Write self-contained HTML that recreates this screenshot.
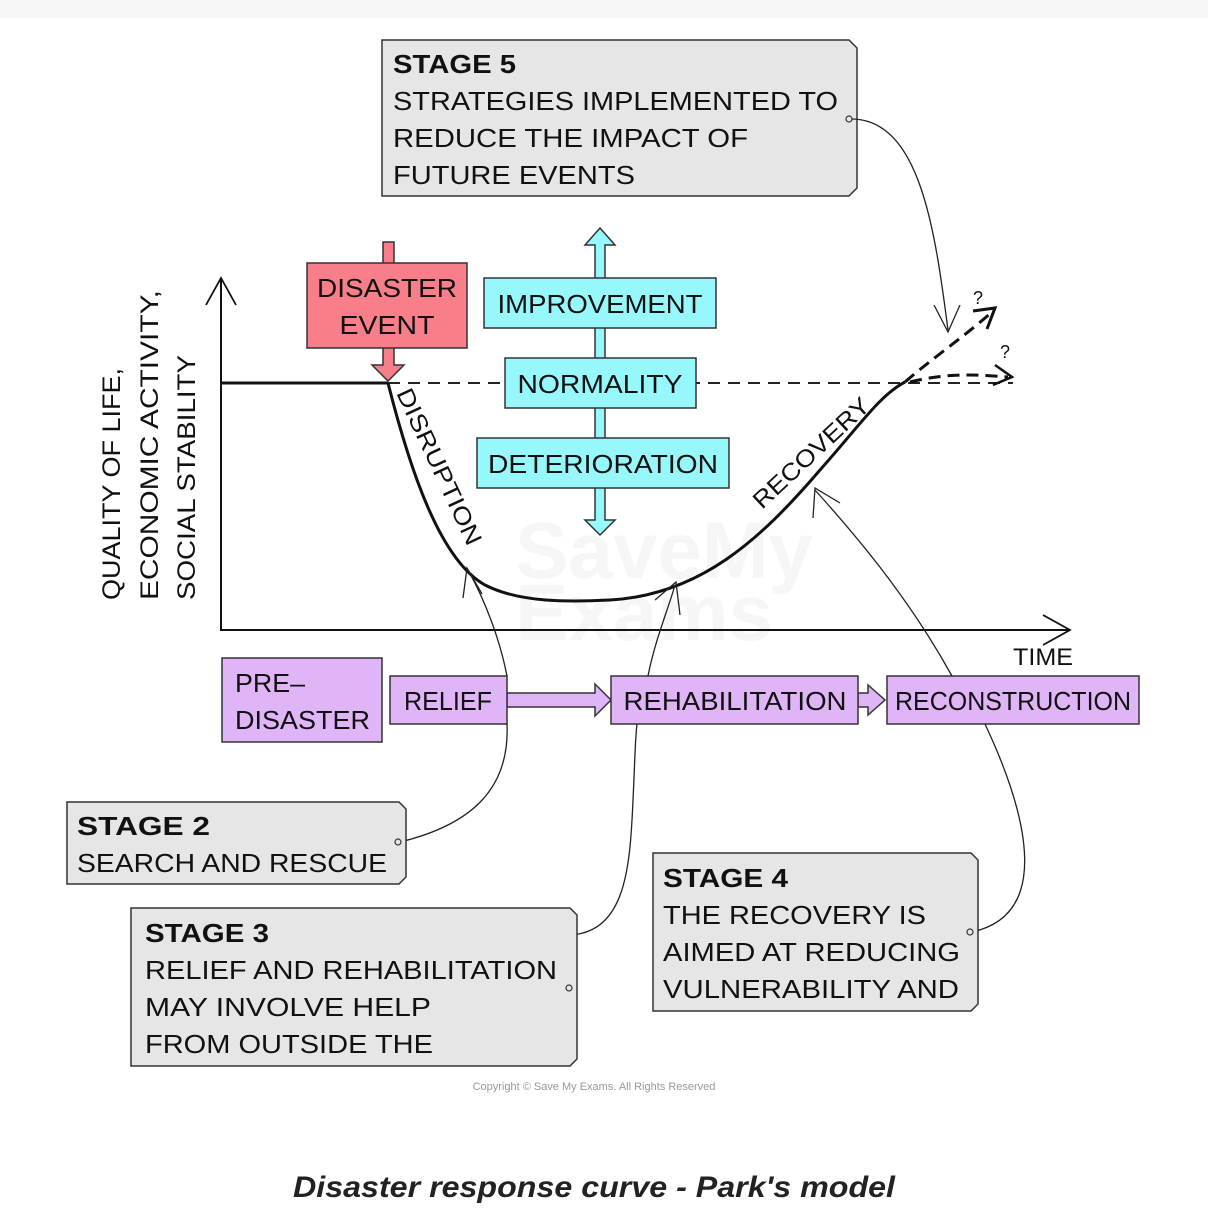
<!DOCTYPE html>
<html><head><meta charset="utf-8"><style>
html,body{margin:0;padding:0;background:#fff;}
svg{display:block;}
text{font-family:"Liberation Sans",sans-serif;fill:#111;}
</style></head><body>
<svg width="1208" height="1232" viewBox="0 0 1208 1232" xmlns="http://www.w3.org/2000/svg">
<rect width="1208" height="1232" fill="#fff"/>
<rect width="1208" height="18" fill="#f7f7f7"/>
<!-- watermark -->
<text x="515" y="578" font-size="80" font-weight="bold" style="fill:#f6f6f6">SaveMy</text>
<text x="515" y="640" font-size="80" font-weight="bold" style="fill:#f6f6f6">Exams</text>

<!-- Stage 5 box -->
<path d="M382,40 H849 L857,48 V188 L849,196 H382 Z" fill="#e6e6e6" stroke="#333" stroke-width="1.5"/>
<text x="393" y="73" font-size="26" font-weight="bold" textLength="123" lengthAdjust="spacingAndGlyphs">STAGE 5</text>
<text x="393" y="110" font-size="26" textLength="445" lengthAdjust="spacingAndGlyphs">STRATEGIES IMPLEMENTED TO</text>
<text x="393" y="147" font-size="26" textLength="355" lengthAdjust="spacingAndGlyphs">REDUCE THE IMPACT OF</text>
<text x="393" y="184" font-size="26" textLength="242" lengthAdjust="spacingAndGlyphs">FUTURE EVENTS</text>
<circle cx="849" cy="119" r="3" fill="none" stroke="#333" stroke-width="1.2"/>
<path d="M852,119 C920,120 935,230 948,330" fill="none" stroke="#222" stroke-width="1.3"/>
<path d="M934,305 L948,332 L960,305" fill="none" stroke="#222" stroke-width="1.3"/>

<!-- axes -->
<path d="M221,278 V630 H1070" fill="none" stroke="#111" stroke-width="2"/>
<path d="M206,305 L221,278 L236,305" fill="none" stroke="#111" stroke-width="1.8"/>
<path d="M1043,615 L1070,630 L1043,645" fill="none" stroke="#111" stroke-width="1.8"/>
<text x="1013" y="665" font-size="24" textLength="60" lengthAdjust="spacingAndGlyphs">TIME</text>
<text transform="translate(120,600) rotate(-90)" font-size="25" textLength="232" lengthAdjust="spacingAndGlyphs">QUALITY OF LIFE,</text>
<text transform="translate(158,600) rotate(-90)" font-size="25" textLength="310" lengthAdjust="spacingAndGlyphs">ECONOMIC ACTIVITY,</text>
<text transform="translate(195,600) rotate(-90)" font-size="25" textLength="245" lengthAdjust="spacingAndGlyphs">SOCIAL STABILITY</text>

<!-- baseline -->
<line x1="221" y1="383" x2="388" y2="383" stroke="#111" stroke-width="3"/>
<line x1="388" y1="383" x2="1013" y2="383" stroke="#222" stroke-width="2" stroke-dasharray="12,8"/>

<!-- curve -->
<path d="M388,383 C410,470 440,560 485,585 C520,603 570,602 610,600 C700,595 760,540 820,470 C860,425 880,395 905,382" fill="none" stroke="#111" stroke-width="3"/>
<path d="M905,382 C930,360 960,340 992,312" fill="none" stroke="#111" stroke-width="3" stroke-dasharray="12,7"/>
<path d="M973,311 L995,308 L987,329" fill="none" stroke="#111" stroke-width="3"/>
<path d="M910,382 C950,372 980,375 1008,377" fill="none" stroke="#111" stroke-width="3" stroke-dasharray="12,7"/>
<path d="M995,365 L1012,377 L993,385" fill="none" stroke="#111" stroke-width="2.5"/>
<text x="973" y="304" font-size="18">?</text>
<text x="1000" y="358" font-size="18">?</text>
<text transform="translate(396,393) rotate(65)" font-size="24" textLength="170" lengthAdjust="spacingAndGlyphs">DISRUPTION</text>
<text transform="translate(762,510) rotate(-43)" font-size="24" textLength="150" lengthAdjust="spacingAndGlyphs">RECOVERY</text>

<!-- cyan arrow -->
<path d="M595,245 H585 L600,228 L615,245 H605 V520 H615 L600,535 L585,520 H595 Z" fill="#97f8fc" stroke="#333" stroke-width="1.5"/>
<rect x="484" y="278" width="232" height="50" fill="#97f8fc" stroke="#333" stroke-width="1.5"/>
<text x="600" y="313" font-size="26" text-anchor="middle" textLength="205" lengthAdjust="spacingAndGlyphs">IMPROVEMENT</text>
<rect x="505" y="358" width="191" height="50" fill="#97f8fc" stroke="#333" stroke-width="1.5"/>
<text x="600" y="393" font-size="26" text-anchor="middle" textLength="165" lengthAdjust="spacingAndGlyphs">NORMALITY</text>
<rect x="477" y="438" width="252" height="50" fill="#97f8fc" stroke="#333" stroke-width="1.5"/>
<text x="603" y="473" font-size="26" text-anchor="middle" textLength="230" lengthAdjust="spacingAndGlyphs">DETERIORATION</text>

<!-- disaster event -->
<path d="M383,263 V242 H394 V263 M383,348 V365 H372 L388,381 L404,365 H394 V348" fill="#f87f8a" stroke="#333" stroke-width="1.5"/>
<rect x="307" y="263" width="160" height="85" fill="#f87f8a" stroke="#333" stroke-width="1.5"/>
<text x="387" y="297" font-size="26" text-anchor="middle" textLength="140" lengthAdjust="spacingAndGlyphs">DISASTER</text>
<text x="387" y="334" font-size="26" text-anchor="middle" textLength="95" lengthAdjust="spacingAndGlyphs">EVENT</text>

<!-- purple boxes -->
<path d="M507,693 H595 V684 L611,700 L595,716 V707 H507 Z" fill="#dfb5f8" stroke="#333" stroke-width="1.5"/>
<path d="M858,693 H868 V685 L885,700 L868,715 V707 H858 Z" fill="#dfb5f8" stroke="#333" stroke-width="1.5"/>
<rect x="222" y="658" width="160" height="84" fill="#dfb5f8" stroke="#333" stroke-width="1.5"/>
<text x="235" y="692" font-size="26" textLength="70" lengthAdjust="spacingAndGlyphs">PRE–</text>
<text x="235" y="729" font-size="26" textLength="135" lengthAdjust="spacingAndGlyphs">DISASTER</text>
<rect x="390" y="676" width="117" height="48" fill="#dfb5f8" stroke="#333" stroke-width="1.5"/>
<text x="448" y="710" font-size="26" text-anchor="middle" textLength="88" lengthAdjust="spacingAndGlyphs">RELIEF</text>
<rect x="611" y="676" width="247" height="48" fill="#dfb5f8" stroke="#333" stroke-width="1.5"/>
<text x="735" y="710" font-size="26" text-anchor="middle" textLength="223" lengthAdjust="spacingAndGlyphs">REHABILITATION</text>
<rect x="887" y="676" width="252" height="48" fill="#dfb5f8" stroke="#333" stroke-width="1.5"/>
<text x="1013" y="710" font-size="26" text-anchor="middle" textLength="236" lengthAdjust="spacingAndGlyphs">RECONSTRUCTION</text>

<!-- connectors -->
<path d="M400,842 C470,825 510,790 507,724 M507,676 C500,640 485,600 468,570" fill="none" stroke="#222" stroke-width="1.3"/>
<path d="M463,598 L467,568 L482,594" fill="none" stroke="#222" stroke-width="1.3"/>
<path d="M572,935 C625,930 630,870 633,800 C635,760 635,740 637,724 M648,676 C655,640 668,610 675,585" fill="none" stroke="#222" stroke-width="1.3"/>
<path d="M655,600 L676,582 L680,615" fill="none" stroke="#222" stroke-width="1.3"/>
<path d="M972,932 C1050,915 1030,820 985,724 M952,676 C910,600 860,540 815,490" fill="none" stroke="#222" stroke-width="1.3"/>
<path d="M813,518 L815,488 L840,503" fill="none" stroke="#222" stroke-width="1.3"/>

<!-- Stage 2 -->
<path d="M67,802 H399 L406,809 V877 L399,884 H67 Z" fill="#e6e6e6" stroke="#333" stroke-width="1.5"/>
<circle cx="398" cy="842" r="3" fill="none" stroke="#333" stroke-width="1.2"/>
<text x="77" y="835" font-size="26" font-weight="bold" textLength="133" lengthAdjust="spacingAndGlyphs">STAGE 2</text>
<text x="77" y="872" font-size="26" textLength="310" lengthAdjust="spacingAndGlyphs">SEARCH AND RESCUE</text>

<!-- Stage 3 -->
<path d="M131,908 H570 L577,915 V1059 L570,1066 H131 Z" fill="#e6e6e6" stroke="#333" stroke-width="1.5"/>
<circle cx="569" cy="988" r="3" fill="none" stroke="#333" stroke-width="1.2"/>
<text x="145" y="942" font-size="26" font-weight="bold" textLength="124" lengthAdjust="spacingAndGlyphs">STAGE 3</text>
<text x="145" y="979" font-size="26" textLength="412" lengthAdjust="spacingAndGlyphs">RELIEF AND REHABILITATION</text>
<text x="145" y="1016" font-size="26" textLength="286" lengthAdjust="spacingAndGlyphs">MAY INVOLVE HELP</text>
<text x="145" y="1053" font-size="26" textLength="288" lengthAdjust="spacingAndGlyphs">FROM OUTSIDE THE</text>

<!-- Stage 4 -->
<path d="M653,853 H971 L978,860 V1004 L971,1011 H653 Z" fill="#e6e6e6" stroke="#333" stroke-width="1.5"/>
<circle cx="970" cy="932" r="3" fill="none" stroke="#333" stroke-width="1.2"/>
<text x="663" y="887" font-size="26" font-weight="bold" textLength="125" lengthAdjust="spacingAndGlyphs">STAGE 4</text>
<text x="663" y="924" font-size="26" textLength="263" lengthAdjust="spacingAndGlyphs">THE RECOVERY IS</text>
<text x="663" y="961" font-size="26" textLength="297" lengthAdjust="spacingAndGlyphs">AIMED AT REDUCING</text>
<text x="663" y="998" font-size="26" textLength="296" lengthAdjust="spacingAndGlyphs">VULNERABILITY AND</text>

<text x="594" y="1090" font-size="11" text-anchor="middle" style="fill:#999">Copyright © Save My Exams. All Rights Reserved</text>
<text x="594" y="1197" font-size="30" font-weight="bold" font-style="italic" text-anchor="middle" textLength="602" lengthAdjust="spacingAndGlyphs" style="fill:#222">Disaster response curve - Park's model</text>
</svg>
</body></html>
